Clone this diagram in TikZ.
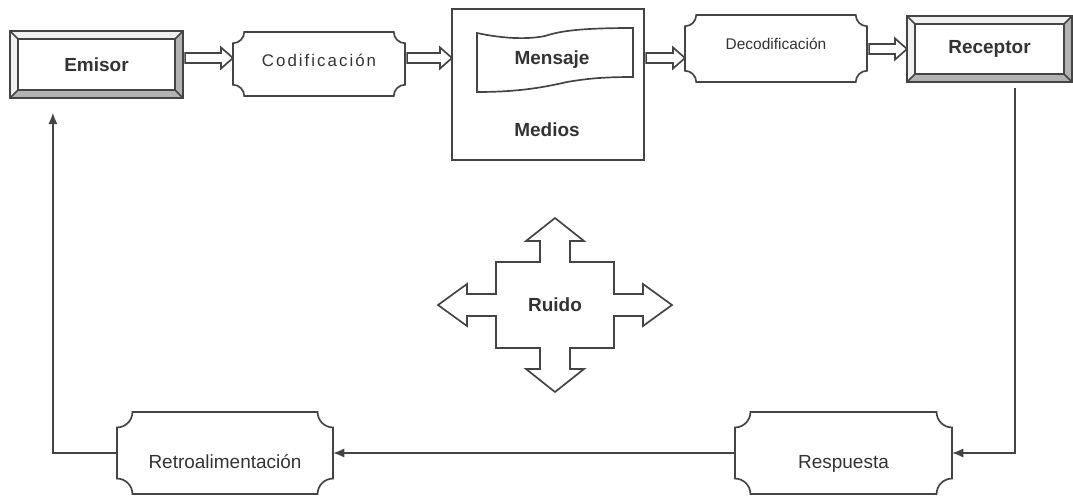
\documentclass[tikz,border=0pt]{standalone}
\usepackage{fontspec}
\setmainfont{Liberation Sans}
\usepackage{tikz}
\usetikzlibrary{arrows.meta,calc}

\definecolor{linegray}{HTML}{444444}
\definecolor{textgray}{HTML}{333333}

\tikzset{
  frame/.style={draw=linegray, line width=1.2pt},
  bevelbox/.style={frame, fill=white, outer sep=0pt, text=textgray,
    font=\bfseries\fontsize{13.5}{16}\selectfont},
  plaquebox/.style={outer sep=0pt, text=textgray,
    font=\fontsize{13.5}{16}\selectfont},
  plainbold/.style={text=textgray, font=\bfseries\fontsize{13.5}{16}\selectfont},
  fb/.style={draw=linegray, line width=1.1pt, ->}
}

% beveled (3d) frame round a rectangle node
\newcommand{\bevel}[1]{%
  \fill[gray!12] (#1.north west) -- (#1.north east) -- ([xshift=-5.5pt,yshift=-5.5pt]#1.north east)
    -- ([xshift=5.5pt,yshift=-5.5pt]#1.north west) -- ([xshift=5.5pt,yshift=5.5pt]#1.south west)
    -- (#1.south west) -- cycle;
  \fill[gray!60] (#1.north east) -- ([xshift=-5.5pt,yshift=-5.5pt]#1.north east)
    -- ([xshift=-5.5pt,yshift=5.5pt]#1.south east) -- ([xshift=5.5pt,yshift=5.5pt]#1.south west)
    -- (#1.south west) -- (#1.south east) -- cycle;
  \draw[frame] ([xshift=5.5pt,yshift=-5.5pt]#1.north west) rectangle ([xshift=-5.5pt,yshift=5.5pt]#1.south east);
  \draw[frame] (#1.north west) rectangle (#1.south east);
  \draw[frame] (#1.north west) -- ++(5.5pt,-5.5pt) (#1.north east) -- ++(-5.5pt,-5.5pt)
    (#1.south west) -- ++(5.5pt,5.5pt) (#1.south east) -- ++(-5.5pt,5.5pt);
}

% box with hollow (concave) corners round a node
\newcommand{\plaque}[2]{%
  \draw[frame] ([xshift=#2]#1.north west) -- ([xshift=-#2]#1.north east)
    .. controls ([xshift=-#2,yshift=-0.55*#2]#1.north east) and ([xshift=-0.55*#2,yshift=-#2]#1.north east) .. ([yshift=-#2]#1.north east)
    -- ([yshift=#2]#1.south east)
    .. controls ([xshift=-0.55*#2,yshift=#2]#1.south east) and ([xshift=-#2,yshift=0.55*#2]#1.south east) .. ([xshift=-#2]#1.south east)
    -- ([xshift=#2]#1.south west)
    .. controls ([xshift=#2,yshift=0.55*#2]#1.south west) and ([xshift=0.55*#2,yshift=#2]#1.south west) .. ([yshift=#2]#1.south west)
    -- ([yshift=-#2]#1.north west)
    .. controls ([xshift=0.55*#2,yshift=-#2]#1.north west) and ([xshift=#2,yshift=-0.55*#2]#1.north west) .. ([xshift=#2]#1.north west)
    -- cycle;
}

% block arrow between two nodes, at height #3
\newcommand{\hollowarrow}[3]{%
  \draw[frame, fill=white] let \p1=(#1.east), \p2=(#2.west), \p3=(0,#3) in
    (\x1+1.5pt,\y3+3.5pt) -- (\x2-8.5pt,\y3+3.5pt) -- (\x2-8.5pt,\y3+7.5pt) -- (\x2,\y3)
    -- (\x2-8.5pt,\y3-7.5pt) -- (\x2-8.5pt,\y3-3.5pt) -- (\x1+1.5pt,\y3-3.5pt) -- cycle;
}

\begin{document}
\begin{tikzpicture}[x=0.025cm,y=-0.025cm,>={Latex[length=8pt,width=6.5pt]}]
  \useasboundingbox (0,0) rectangle (1073,496);

  % top row
  \node[bevelbox, minimum width=4.325cm, minimum height=1.675cm] (emi) at (96.5,64.5) {Emisor};
  \bevel{emi}
  \node[plaquebox, minimum width=4.3cm, minimum height=1.6cm, text height=10pt, text depth=6pt,
    font=\addfontfeatures{LetterSpace=12}\fontsize{12}{14}\selectfont] (cod) at (319,64) {Codificación};
  \plaque{cod}{8pt}
  \node[frame, outer sep=0pt, minimum width=4.8cm, minimum height=3.775cm] (med) at (548,84.5) {};
  % message banner
  \draw[frame] (477,33) .. controls (500,38) and (525,40) .. (545,36)
    .. controls (560,31) and (580,28) .. (633,28) -- (633,77)
    .. controls (600,77) and (585,79) .. (567,82)
    .. controls (545,87) and (520,92) .. (477,92) -- cycle;
  \node[plainbold] (msg) at (552,60) {Mensaje};
  \node[plainbold] (medlbl) at (547,130) {Medios};
  \node[plaquebox, minimum width=4.55cm, minimum height=1.675cm, text height=10pt, text depth=8pt,
    font=\fontsize{11}{13}\selectfont] (dec) at (776,48.5) {Decodificación};
  \plaque{dec}{8pt}
  \node[bevelbox, minimum width=4.125cm, minimum height=1.65cm] (rec) at (989.5,49) {Receptor};
  \bevel{rec}

  \hollowarrow{emi}{cod}{58}
  \hollowarrow{cod}{med}{58}
  \hollowarrow{med}{dec}{58}
  \hollowarrow{dec}{rec}{49}

  % noise
  \node[plainbold] (ruido) at (555,305) {Ruido};
  \draw[frame, shift={(ruido.center)}] (0,-87) -- (29,-64) -- (15,-64) -- (15,-43) -- (59,-43)
    -- (59,-11) -- (88,-11) -- (88,-21) -- (117,0) -- (88,21) -- (88,11) -- (59,11) -- (59,43)
    -- (15,43) -- (15,64) -- (29,64) -- (0,87) -- (-29,64) -- (-15,64) -- (-15,43) -- (-59,43)
    -- (-59,11) -- (-88,11) -- (-88,21) -- (-117,0) -- (-88,-21) -- (-88,-11) -- (-59,-11)
    -- (-59,-43) -- (-15,-43) -- (-15,-64) -- (-29,-64) -- cycle;

  % bottom row
  \node[plaquebox, minimum width=5.425cm, minimum height=2.05cm, text height=24pt, text depth=2pt] (res) at (843.5,453) {Respuesta};
  \plaque{res}{11pt}
  \node[plaquebox, minimum width=5.4cm, minimum height=2.05cm, text height=24pt, text depth=2pt] (ret) at (225,453) {Retroalimentación};
  \plaque{ret}{11pt}

  % feedback loop
  \draw[fb] ([xshift=18pt,yshift=-4.5pt]rec.south) |- (res.east);
  \draw[fb] (res.west) -- (ret.east);
  \draw[fb] (ret.west) -| ([xshift=-31pt,yshift=-10.5pt]emi.south);
\end{tikzpicture}
\end{document}
